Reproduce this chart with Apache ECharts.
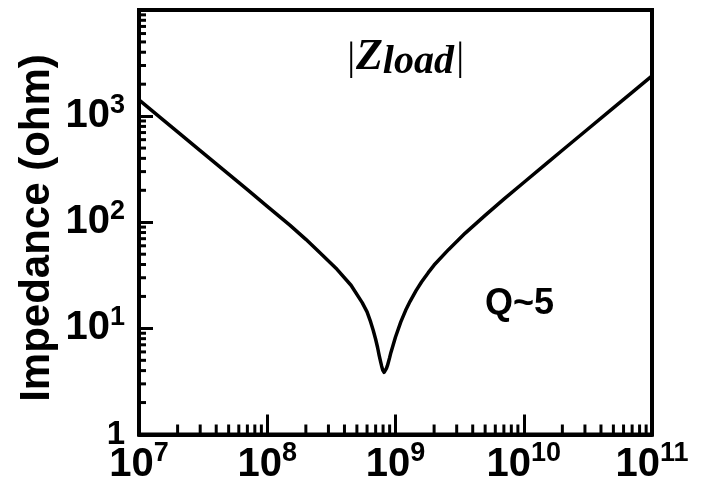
<!DOCTYPE html>
<html>
<head>
<meta charset="utf-8">
<style>
  html, body { margin: 0; padding: 0; background: #fff; }
  #chart { width: 703px; height: 485px; }
</style>
<script src="https://cdn.jsdelivr.net/npm/echarts@6/dist/echarts.min.js"></script>
</head>
<body>
<div id="chart"></div>
<script>
// Load impedance magnitude of a series resonant load, Q ~ 5
const freqHz = [
  1e7, 1.5e7, 2e7, 3e7, 5e7, 7e7, 1e8, 1.5e8, 2e8, 2.6e8, 3.5e8, 4.5e8,
  5.5e8, 6.0e8, 6.4e8, 6.7e8, 7.0e8, 7.25e8, 7.45e8, 7.65e8, 7.8e8, 7.95e8,
  8.05e8, 8.15e8, 8.25e8, 8.35e8, 8.5e8, 8.65e8, 8.8e8, 9.0e8, 9.2e8, 9.6e8,
  1.0e9, 1.1e9, 1.2e9, 1.3e9, 1.45e9, 1.6e9, 1.8e9, 2.0e9, 2.6e9, 3.5e9,
  5e9, 7e9, 1e10, 1.5e10, 2e10, 3e10, 5e10, 7e10, 1e11
];
const impedanceOhm = [
  1420, 947, 710, 473, 284, 203, 141, 94, 69, 51, 36, 25.5,
  17.5, 14.3, 11.5, 9.6, 7.9, 6.6, 5.6, 4.85, 4.4, 4.05,
  3.9, 3.85, 3.9, 4.0, 4.2, 4.45, 4.8, 5.3, 5.9, 7.0,
  8.3, 11.5, 14.8, 18, 22.8, 27.5, 33.5, 39.5, 55.5, 79,
  116, 165, 237, 357, 477, 716, 1195, 1675, 2390
];

// Axis ranges and decorations
const xRange = [1e7, 1e11];
const yRange = [1, 1e4];
const minorFactors = [2, 3, 4, 5, 6, 7, 8, 9];
const xDecades = [1e7, 1e8, 1e9, 1e10];
const yDecades = [1, 10, 100, 1000];

const xMinor = [];
xDecades.forEach(d => minorFactors.forEach(m => xMinor.push([d * m])));
const yMinor = [];
yDecades.forEach(d => minorFactors.forEach(m => yMinor.push([d * m])));

const seriesData = freqHz.map((f, i) => [f, impedanceOhm[i]]);

function powerLabel(v) {
  const e = Math.round(Math.log10(v));
  return '{b|10}{s|' + e + '}';
}

const chart = echarts.init(document.getElementById('chart'), null, { renderer: 'canvas' });

const labelRich = {
  b: { fontFamily: 'Liberation Sans', fontWeight: 'bold', fontSize: 40, color: '#000' },
  s: { fontFamily: 'Liberation Sans', fontWeight: 'bold', fontSize: 27, color: '#000', padding: [0, 0, 22, 0] },
  one: { fontFamily: 'Liberation Sans', fontWeight: 'bold', fontSize: 33, color: '#000' }
};

chart.setOption({
  animation: false,
  backgroundColor: '#fff',
  grid: {
    left: 139, right: 51, top: 10, bottom: 49.5,
    show: true, borderColor: '#000', borderWidth: 4, backgroundColor: 'transparent'
  },
  xAxis: {
    type: 'log', logBase: 10, min: xRange[0], max: xRange[1],
    splitLine: { show: false },
    axisLine: { lineStyle: { color: '#000', width: 4 } },
    axisTick: { inside: true, length: 20, lineStyle: { color: '#000', width: 3 } },
    axisLabel: {
      margin: 6,
      formatter: v => powerLabel(v),
      rich: labelRich
    }
  },
  yAxis: {
    type: 'log', logBase: 10, min: yRange[0], max: yRange[1],
    splitLine: { show: false },
    axisLine: { lineStyle: { color: '#000', width: 4 } },
    axisTick: { inside: true, length: 14, lineStyle: { color: '#000', width: 3 } },
    axisLabel: {
      margin: 14,
      showMaxLabel: false,
      formatter: v => (v >= 9999 ? '' : (v < 1.5 ? '{one|1}' : powerLabel(v))),
      rich: labelRich
    }
  },
  graphic: [
    {
      type: 'text', x: 37, y: 228, rotation: Math.PI / 2,
      style: {
        text: 'Impedance (ohm)', fill: '#000',
        font: 'bold 42px "Liberation Sans"',
        align: 'center', verticalAlign: 'middle'
      }
    },
    {
      type: 'text', x: 485, y: 286,
      style: {
        text: 'Q~5', fill: '#000',
        font: 'bold 36px "Liberation Sans"',
        align: 'left', verticalAlign: 'top'
      }
    },
    {
      type: 'text', x: 345, y: 33,
      style: {
        text: '{p||}{z|Z}{l|load}{p||}',
        rich: {
          p: { fontFamily: 'Liberation Serif', fontStyle: 'italic', fontSize: 40, color: '#000' },
          z: { fontFamily: 'Liberation Serif', fontStyle: 'italic', fontWeight: 'bold', fontSize: 44, color: '#000' },
          l: { fontFamily: 'Liberation Serif', fontStyle: 'italic', fontWeight: 'bold', fontSize: 40, color: '#000', padding: [10, 0, 0, 0] }
        }
      }
    }
  ],
  series: [
    {
      type: 'line', data: seriesData, showSymbol: false, symbol: 'none',
      smooth: false,
      lineStyle: { color: '#000', width: 3.5, join: 'round' },
      clip: true, z: 3
    },
    {
      type: 'custom', data: xMinor, coordinateSystem: 'cartesian2d',
      renderItem: (params, api) => {
        const p = api.coord([api.value(0), yRange[0]]);
        return { type: 'line', shape: { x1: p[0], y1: p[1], x2: p[0], y2: p[1] - 10 },
                 style: { stroke: '#000', lineWidth: 3 } };
      },
      silent: true, z: 2
    },
    {
      type: 'custom', data: yMinor.map(v => [xRange[0], v[0]]), coordinateSystem: 'cartesian2d',
      renderItem: (params, api) => {
        const p = api.coord([api.value(0), api.value(1)]);
        return { type: 'line', shape: { x1: p[0], y1: p[1], x2: p[0] + 7, y2: p[1] },
                 style: { stroke: '#000', lineWidth: 3 } };
      },
      silent: true, z: 2
    }
  ]
});
</script>
</body>
</html>
